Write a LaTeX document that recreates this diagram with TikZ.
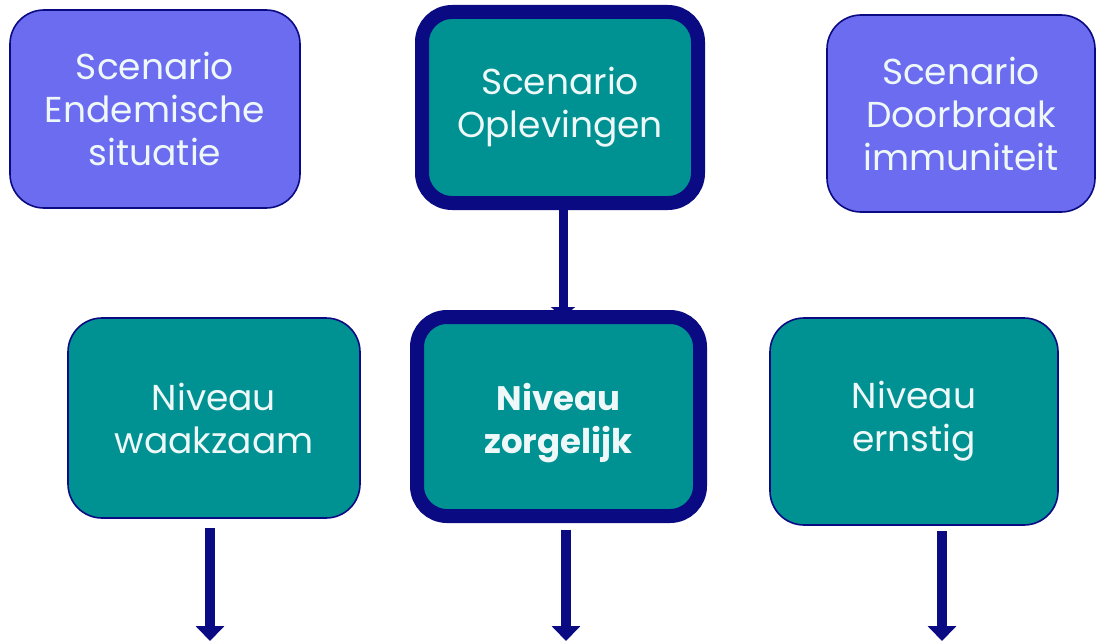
\documentclass[tikz,border=0pt]{standalone}
\usepackage{fontspec}
\setmainfont{Poppins}
\usetikzlibrary{arrows.meta}
\definecolor{scenpurple}{RGB}{108,108,240}
\definecolor{tealfill}{RGB}{0,146,146}
\definecolor{navy}{RGB}{10,10,130}
\definecolor{textwhite}{RGB}{238,248,248}
\begin{document}
\begin{tikzpicture}[x=1pt,y=-1pt,
  base/.style={rounded corners=34pt, outer sep=0pt, inner sep=0pt, align=center,
    text=textwhite, font=\fontsize{36}{43}\selectfont},
  scen/.style={base, fill=scenpurple, draw=navy, line width=1.6pt},
  niv/.style={base, fill=tealfill, draw=navy, line width=1.6pt},
  active/.style={base, fill=tealfill, draw=navy, line width=14pt, rounded corners=30pt},
  flow/.style={draw=navy, line width=10pt, -{Triangle[width=28pt,length=15pt]}},
  flowsmall/.style={draw=navy, line width=9pt, -{Triangle[width=24pt,length=10pt]}}
]
\useasboundingbox[fill=white] (0,0) rectangle (1105,642);
\node[scen, minimum width=290pt, minimum height=198pt] (endem) at (155,109) {Scenario\\Endemische\\situatie};
\node[active, minimum width=276pt, minimum height=191pt] (opl) at (560,107.5) {Scenario\\Oplevingen};
\node[scen, minimum width=268pt, minimum height=197pt] (door) at (961,113.5) {Scenario\\Doorbraak\\immuniteit};
\node[niv, minimum width=292pt, minimum height=200pt] (waak) at (214,418) {Niveau\\waakzaam};
\node[active, minimum width=283pt, minimum height=199pt] (zorg) at (558.5,416.5) {};
\node[text=textwhite, align=center, inner sep=0pt, font=\fontsize{34}{43}\selectfont\bfseries] (zorgtxt) at ([yshift=-7pt]zorg.center) {Niveau\\zorgelijk};
\node[niv, minimum width=288pt, minimum height=207pt] (ernst) at (914,421.5) {Niveau\\ernstig};
\coordinate (a0) at (563,0);
\coordinate (a1s) at (210,528);
\coordinate (a1e) at (210,641);
\coordinate (a2s) at (566,530);
\coordinate (a2e) at (566,641);
\coordinate (a3s) at (942,531);
\coordinate (a3e) at (942,641);
\draw[flowsmall] (opl.south -| a0) -- (zorg.north -| a0);
\draw[flow] (a1s) -- (a1e);
\draw[flow] (a2s) -- (a2e);
\draw[flow] (a3s) -- (a3e);
\end{tikzpicture}
\end{document}
